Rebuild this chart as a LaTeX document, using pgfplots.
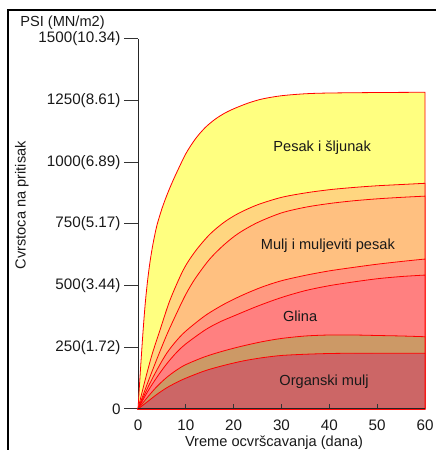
\documentclass[border=0pt]{standalone}
\usepackage{pgfplots}
\pgfplotsset{compat=1.18}
\usepackage{fontspec}
\setmainfont{Liberation Sans}
\definecolor{cYel}{RGB}{255,255,128}
\definecolor{cLor}{RGB}{255,214,128}
\definecolor{cOra}{RGB}{255,192,128}
\definecolor{cSal}{RGB}{255,153,128}
\definecolor{cRed}{RGB}{255,128,128}
\definecolor{cTan}{RGB}{204,153,102}
\definecolor{cRos}{RGB}{204,102,102}
\newcommand\myfont{\fontsize{14.6}{17}\selectfont}
\newcommand\tkfont{\fontsize{15.2}{17}\selectfont}
\begin{document}
\begin{tikzpicture}
\useasboundingbox (0,0) rectangle (436pt,450pt);
\draw[line width=2.5pt] (8pt,-5pt) -- (8pt,440pt) -- (445pt,440pt);
\begin{axis}[
  at={(138pt,41pt)}, anchor=south west, scale only axis,
  width=287pt, height=370pt,
  xmin=0, xmax=60, ymin=0, ymax=1500,
  axis lines=left, axis line style={-, black!85, line width=1pt},
  xtick={0,10,...,60}, xtick style={draw=none},
  ytick={0,250,...,1500},
  yticklabels={0,250(1.72),500(3.44),750(5.17),1000(6.89),1250(8.61),1500(10.34)},
  tick align=outside, major tick length=14pt,
  ytick style={black!80, line width=1pt},
  tick label style={font=\tkfont, text=black!90},
  xticklabel style={yshift=7pt},
  /pgf/number format/assume math mode=true,
  clip=false,
]
\addplot[smooth, draw=red, line width=0.8pt, fill=cYel] coordinates {
(0,0) (0.5,155) (1,300) (1.5,425) (2,520) (2.5,595) (3,655) (3.5,705) (4,748) (5,812) (6,865) (7,912) (8,955) (10,1035) (12,1095) (14,1140) (16,1173) (18,1198) (20,1217) (23,1240) (26,1257) (30,1270) (35,1278) (40,1281) (50,1283) (60,1284)
} \closedcycle;
\addplot[smooth, draw=red, line width=0.8pt, fill=cLor] coordinates {
(0,0) (1,80) (2,155) (3,225) (4.6,320) (6.7,442) (9.5,565) (12,640) (15,708) (18,757) (21,793) (25,828) (30,858) (35,876) (40,889) (45,898) (50,905) (55,910) (60,915)
} \closedcycle;
\addplot[smooth, draw=red, line width=0.8pt, fill=cOra] coordinates {
(0,0) (2,105) (4,205) (6,300) (8,385) (10,465) (12,530) (15,608) (18,666) (21,712) (25,756) (30,795) (35,818) (40,833) (45,844) (50,852) (55,858) (60,863)
} \closedcycle;
\addplot[smooth, draw=red, line width=0.8pt, fill=cSal] coordinates {
(0,0) (2,85) (4,160) (6,226) (8,276) (10,316) (14,378) (18,425) (22,463) (26,495) (30,520) (35,542) (40,560) (45,574) (50,587) (55,598) (60,608)
} \closedcycle;
\addplot[smooth, draw=red, line width=0.8pt, fill=cRed] coordinates {
(0,0) (2,70) (4,130) (6,183) (8,228) (10,264) (14,320) (17,352) (20,377) (25,417) (30,452) (35,480) (40,500) (45,515) (50,528) (55,537) (60,543)
} \closedcycle;
\addplot[smooth, draw=red, line width=0.8pt, fill=cTan] coordinates {
(0,0) (2,48) (4,92) (6,128) (8,157) (10,180) (14,212) (18,236) (22,256) (26,273) (30,286) (35,296) (40,300) (45,300) (50,298) (55,296) (60,293)
} \closedcycle;
\addplot[smooth, draw=red, line width=0.8pt, fill=cRos] coordinates {
(0,0) (2,30) (4,60) (6,86) (8,107) (10,125) (14,155) (18,177) (22,195) (26,208) (30,217) (35,222) (40,225) (45,226) (50,226) (55,226) (60,226)
} \closedcycle;
\node[font=\myfont, text=black!90] at (axis cs:38.5,1058) {Pesak i šljunak};
\node[font=\myfont, text=black!90] at (axis cs:39.7,661) {Mulj i muljeviti pesak};
\node[font=\myfont, text=black!90] at (axis cs:33.9,377) {Glina};
\node[font=\myfont, text=black!90] at (axis cs:38.9,109) {Organski mulj};
\node[font=\myfont, text=black!90, rotate=90] at (rel axis cs:-0.405,0.551) {Cvrstoca na pritisak};
\node[font=\myfont, text=black!90] at (rel axis cs:-0.263,1.043) {PSI (MN/m2)};
\node[font=\myfont, text=black!90] at (rel axis cs:0.474,-0.092) {Vreme ocvršcavanja (dana)};
\end{axis}
\begin{axis}[
  at={(138pt,41pt)}, anchor=south west, scale only axis,
  width=287pt, height=370pt,
  xmin=0, xmax=60, ymin=0, ymax=1500,
  axis x line*=bottom, axis y line=none,
  axis line style={-, black!85, line width=1pt},
  xtick={10,20,...,50}, xticklabels={},
  tick align=inside, major tick length=5pt,
  xtick style={black!80, line width=1pt},
]
\end{axis}
\end{tikzpicture}
\end{document}
